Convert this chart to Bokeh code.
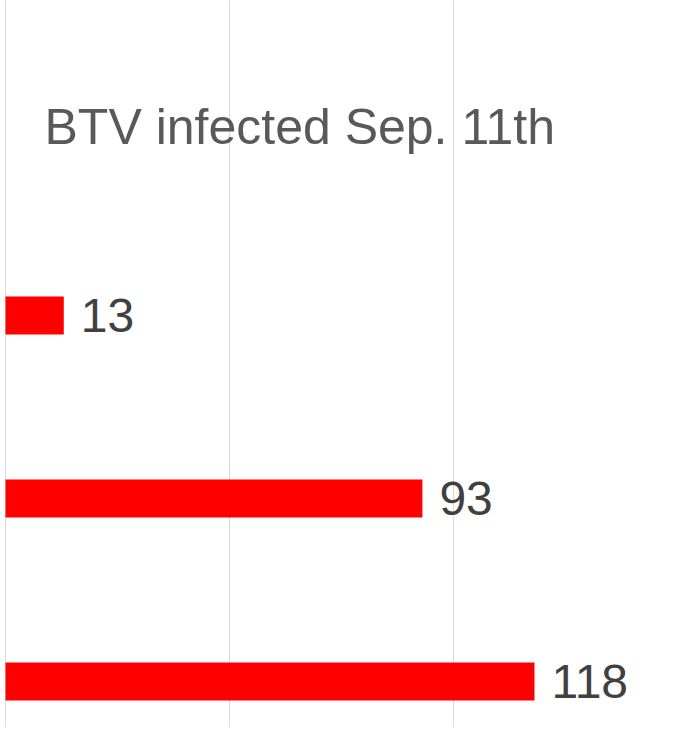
from bokeh.plotting import figure
from bokeh.models import Range1d, FixedTicker, Label, ColumnDataSource
from bokeh.embed import file_html
from bokeh.resources import INLINE
from bokeh.core.properties import value

# ---- data ----
title_text = "BTV infected Sep. 11th"
categories = ["row 1", "row 2", "row 3"]
values = [13, 93, 118]
x_ticks = [0, 50, 100, 150]

W, H = 671, 727
px_per_unit = 4.483
x_start = -5 / px_per_unit
px_per_row = 183.0
first_row_px = 315.0
y_top = -first_row_px / px_per_row
y_bottom = (H - first_row_px) / px_per_row

p = figure(width=W, height=H, output_backend="svg", toolbar_location=None,
           x_range=Range1d(x_start, x_start + W / px_per_unit),
           y_range=Range1d(y_bottom, y_top),
           min_border=0, min_border_left=0, min_border_right=0,
           min_border_top=0, min_border_bottom=0)
p.outline_line_color = None
p.xaxis.visible = False
p.yaxis.visible = False
p.ygrid.visible = False
p.xgrid.ticker = FixedTicker(ticks=x_ticks)
p.xgrid.grid_line_color = "#d9d9d9"
p.xgrid.grid_line_width = 1
p.background_fill_color = "white"
p.border_fill_color = "white"

src = ColumnDataSource(dict(
    y=list(range(len(values))),
    v=values,
    lab=[str(v) for v in values],
    cat=categories,
))
p.hbar(y="y", right="v", left=0, height=38 / px_per_row, source=src,
       fill_color="#ff0000", line_color=None)
p.text(x="v", y="y", text="lab", source=src, x_offset=17,
       text_baseline="middle", text_align="left",
       text_font=value("Liberation Sans"), text_font_size="48px",
       text_color="#404040")

p.add_layout(Label(x=44, y=H - 126, x_units="screen", y_units="screen",
                   text=title_text, text_font="Liberation Sans",
                   text_font_size="50px", text_color="#595959",
                   text_baseline="middle", text_align="left"))

open("out.html", "w").write(file_html(p, INLINE))
